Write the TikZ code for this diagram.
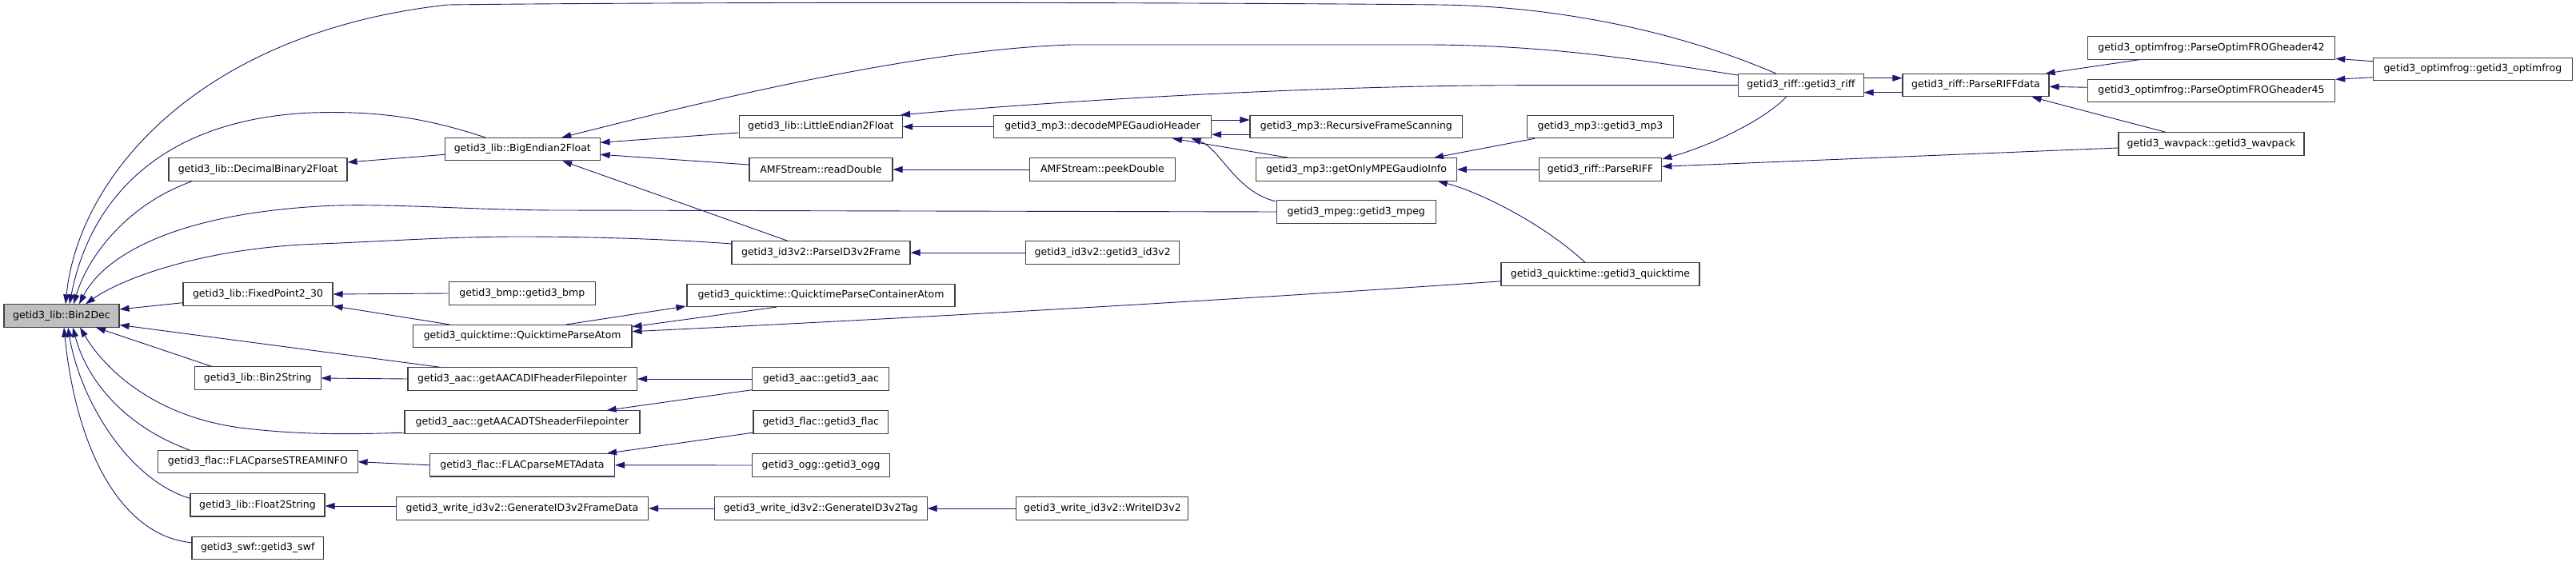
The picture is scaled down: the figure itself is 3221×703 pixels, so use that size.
\documentclass[tikz,border=0pt]{standalone}
\usepackage{fontspec}
\setmainfont{DejaVu Sans}
\usetikzlibrary{arrows.meta,calc}
\definecolor{mblue}{HTML}{191970}
\definecolor{nodegrey}{HTML}{BFBFBF}
\definecolor{bord}{HTML}{404040}
\tikzset{
  fn/.style={draw=bord, line width=1.1pt, fill=white, minimum width=#1, minimum height=28.3pt,
    inner sep=0pt, font=\fontsize{12.5}{15}\selectfont},
  ed/.style={draw=mblue, line width=0.9pt, {Triangle[length=12pt,width=8pt]}-}
}
\begin{document}
\begin{tikzpicture}[x=1pt,y=-1pt]
\useasboundingbox (0,0) rectangle (3221,703);
% nodes
\node[fn=144pt, fill=nodegrey] (bin2dec) at (77,395) {getid3\_lib::Bin2Dec};
\node[fn=223pt] (decimal) at (322.5,212) {getid3\_lib::DecimalBinary2Float};
\node[fn=187pt] (fixed) at (322.5,368) {getid3\_lib::FixedPoint2\_30};
\node[fn=157.5pt] (bin2string) at (322.3,473) {getid3\_lib::Bin2String};
\node[fn=249.3pt] (streaminfo) at (322.4,577.7) {getid3\_flac::FLACparseSTREAMINFO};
\node[fn=168pt] (float2string) at (322,631.8) {getid3\_lib::Float2String};
\node[fn=164.6pt] (swf) at (322.3,685.5) {getid3\_swf::getid3\_swf};
\node[fn=193.5pt] (bigendian) at (653.3,186.7) {getid3\_lib::BigEndian2Float};
\node[fn=183.5pt] (bmp) at (652.8,367) {getid3\_bmp::getid3\_bmp};
\node[fn=273.5pt] (qpa) at (653.2,420.7) {getid3\_quicktime::QuicktimeParseAtom};
\node[fn=286.5pt] (adif) at (653.2,474) {getid3\_aac::getAACADIFheaderFilepointer};
\node[fn=294pt] (adts) at (653,528) {getid3\_aac::getAACADTSheaderFilepointer};
\node[fn=231pt] (meta) at (653,581.8) {getid3\_flac::FLACparseMETAdata};
\node[fn=315pt] (framedata) at (653,636) {getid3\_write\_id3v2::GenerateID3v2FrameData};
\node[fn=204.5pt] (little) at (1026.3,158.5) {getid3\_lib::LittleEndian2Float};
\node[fn=179pt] (readdouble) at (1026.5,212) {AMFStream::readDouble};
\node[fn=223pt] (parseid3) at (1026.5,316) {getid3\_id3v2::ParseID3v2Frame};
\node[fn=335pt] (qpca) at (1026.5,369.4) {getid3\_quicktime::QuicktimeParseContainerAtom};
\node[fn=171pt] (aac) at (1026.4,474) {getid3\_aac::getid3\_aac};
\node[fn=168.6pt] (flac) at (1026.3,528) {getid3\_flac::getid3\_flac};
\node[fn=172pt] (ogg) at (1026.6,582) {getid3\_ogg::getid3\_ogg};
\node[fn=265.5pt] (tag) at (1026.3,636) {getid3\_write\_id3v2::GenerateID3v2Tag};
\node[fn=272pt] (decode) at (1378.5,158.5) {getid3\_mp3::decodeMPEGaudioHeader};
\node[fn=182pt] (peek) at (1378.5,212) {AMFStream::peekDouble};
\node[fn=192pt] (id3v2) at (1378.7,316) {getid3\_id3v2::getid3\_id3v2};
\node[fn=215pt] (write) at (1378.4,636) {getid3\_write\_id3v2::WriteID3v2};
\node[fn=265.6pt] (recursive) at (1695.8,158.5) {getid3\_mp3::RecursiveFrameScanning};
\node[fn=250.7pt] (getonly) at (1696,212) {getid3\_mp3::getOnlyMPEGaudioInfo};
\node[fn=198.7pt] (mpeg) at (1695.8,265) {getid3\_mpeg::getid3\_mpeg};
\node[fn=183pt] (mp3) at (2001,158.5) {getid3\_mp3::getid3\_mp3};
\node[fn=153.7pt] (parseriff) at (2001,212) {getid3\_riff::ParseRIFF};
\node[fn=248pt] (quicktime) at (2001,343) {getid3\_quicktime::getid3\_quicktime};
\node[fn=156.5pt] (riff) at (2251.8,106.7) {getid3\_riff::getid3\_riff};
\node[fn=183pt] (riffdata) at (2470.5,106.7) {getid3\_riff::ParseRIFFdata};
\node[fn=309.5pt] (po42) at (2765,60) {getid3\_optimfrog::ParseOptimFROGheader42};
\node[fn=309.5pt] (po45) at (2765,113.3) {getid3\_optimfrog::ParseOptimFROGheader45};
\node[fn=232pt] (wavpack) at (2765,180) {getid3\_wavpack::getid3\_wavpack};
\node[fn=248.5pt] (optimfrog) at (3091.8,86.7) {getid3\_optimfrog::getid3\_optimfrog};
% edges into Bin2Dec
\draw[ed] ($(bin2dec.north)+(5,0)$) .. controls (98,220) and (250,40) .. (560,6) .. controls (900,2) and (1500,3) .. (1800,6) .. controls (1950,8) and (2100,40) .. ($(riff.north)+(-31,0)$);
\draw[ed] ($(bin2dec.north)+(10,0)$) .. controls (110,260) and (190,150) .. (389,141) .. controls (480,138) and (540,150) .. ($(bigendian.north west)+(51,0)$);
\draw[ed] ($(bin2dec.north)+(15,0)$) .. controls (110,320) and (160,255) .. ($(decimal.south west)+(30,0)$);
\draw[ed] ($(bin2dec.north)+(22,0)$) .. controls (130,320) and (220,265) .. (420,257) .. controls (500,255) and (600,263) .. (700,263) -- (mpeg.west);
\draw[ed] ($(bin2dec.north)+(30,0)$) .. controls (150,350) and (250,310) .. (400,305) .. controls (480,302) and (560,296) .. (650,296) .. controls (750,296) and (850,300) .. ($(parseid3.west)+(0,-11)$);
\draw[ed] ($(bin2dec.east)+(0,-8)$) -- ($(fixed.west)+(0,10.7)$);
\draw[ed] ($(bin2dec.east)+(0,11.5)$) -- ($(adif.north west)+(41,0)$);
\draw[ed] ($(bin2dec.south)+(43,0)$) -- ($(bin2string.north west)+(21.5,0)$);
\draw[ed] ($(bin2dec.south)+(23,0)$) .. controls (130,460) and (190,520) .. (300,535) .. controls (380,545) and (450,543) .. ($(adts.south west)+(0,-1.5)$);
\draw[ed] ($(bin2dec.south)+(14,0)$) .. controls (110,480) and (160,535) .. ($(streaminfo.north west)+(40,0)$);
\draw[ed] ($(bin2dec.south)+(8,0)$) .. controls (100,500) and (160,600) .. ($(float2string.west)+(0,-8.4)$);
\draw[ed] ($(bin2dec.south)+(3,0)$) .. controls (95,560) and (150,670) .. ($(swf.west)+(0,-6.7)$);
% level 2
\draw[ed] ($(decimal.east)+(0,-9)$) -- ($(bigendian.west)+(0,6.6)$);
\draw[ed] ($(bigendian.north)+(49,0)$) .. controls (900,122) and (1150,62) .. (1340,56) -- (1780,56) .. controls (1950,56) and (2080,80) .. ($(riff.west)+(0,-12.7)$);
\draw[ed] ($(little.north east)+(-3,0)$) .. controls (1400,120) and (1700,106.7) .. (1900,106.7) -- (riff.west);
\draw[ed] ($(bigendian.east)+(0,-8.4)$) -- ($(little.west)+(0,7.5)$);
\draw[ed] ($(bigendian.east)+(0,6.6)$) -- ($(readdouble.west)+(0,-6)$);
\draw[ed] ($(bigendian.south)+(50,0)$) -- ($(parseid3.north)+(-41.5,0)$);
\draw[ed] (little.east) -- (decode.west);
\draw[ed] (readdouble.east) -- (peek.west);
\draw[ed] (parseid3.east) -- (id3v2.west);
\draw[ed] ($(recursive.west)+(0,-8.5)$) -- ($(decode.east)+(0,-8.5)$);
\draw[ed] ($(decode.east)+(0,9.8)$) -- ($(recursive.west)+(0,9.8)$);
\draw[ed] ($(decode.south)+(87.5,0)$) -- ($(getonly.north west)+(41,0)$);
\draw[ed] ($(decode.south)+(111,0)$) .. controls (1525,185) and (1545,240) .. ($(mpeg.north west)+(-1,1.5)$);
\draw[ed] ($(getonly.north east)+(-29,0)$) -- ($(mp3.south west)+(10.5,0)$);
\draw[ed] (getonly.east) -- (parseriff.west);
\draw[ed] ($(getonly.south east)+(-24,0)$) .. controls (1850,240) and (1930,280) .. ($(quicktime.north)+(-19,0)$);
\draw[ed] ($(parseriff.east)+(0,-13)$) .. controls (2130,185) and (2200,155) .. ($(riff.south)+(-18.3,0)$);
\draw[ed] ($(parseriff.east)+(0,-3.7)$) -- ($(wavpack.west)+(0,5)$);
\draw[ed] ($(riffdata.west)+(0,-9)$) -- ($(riff.east)+(0,-9)$);
\draw[ed] ($(riff.east)+(0,9)$) -- ($(riffdata.west)+(0,9)$);
\draw[ed] ($(riffdata.north east)+(-5,0)$) -- ($(po42.south west)+(65,0)$);
\draw[ed] ($(riffdata.east)+(0,1.6)$) -- ($(po45.west)+(0,-4)$);
\draw[ed] ($(riffdata.south east)+(-22,0)$) -- ($(wavpack.north west)+(59.5,0)$);
\draw[ed] ($(po42.east)+(0,13.3)$) -- ($(optimfrog.west)+(0,-10)$);
\draw[ed] ($(po45.east)+(0,-14)$) -- ($(optimfrog.west)+(0,10)$);
\draw[ed] ($(qpa.east)+(0,-6)$) .. controls (1100,400) and (1500,378) .. ($(quicktime.west)+(0,8.8)$);
\draw[ed] ($(qpa.east)+(0,-12)$) -- ($(qpca.south)+(-55.5,0)$);
\draw[ed] ($(qpca.south west)+(-1,-1)$) -- ($(qpa.north)+(54.5,0)$);
\draw[ed] (fixed.east) -- (bmp.west);
\draw[ed] (fixed.south east) -- ($(qpa.north west)+(46.5,0)$);
\draw[ed] (bin2string.east) -- (adif.west);
\draw[ed] (adif.east) -- (aac.west);
\draw[ed] ($(adts.north east)+(-42,0)$) -- ($(aac.south west)+(0,-1)$);
\draw[ed] ($(meta.north east)+(-10,0)$) -- ($(flac.south west)+(0,-1.5)$);
\draw[ed] (meta.east) -- (ogg.west);
\draw[ed] (streaminfo.east) -- (meta.west);
\draw[ed] ($(float2string.east)+(0,1.2)$) -- ($(framedata.west)+(0,-3)$);
\draw[ed] (framedata.east) -- (tag.west);
\draw[ed] (tag.east) -- (write.west);
\end{tikzpicture}
\end{document}
